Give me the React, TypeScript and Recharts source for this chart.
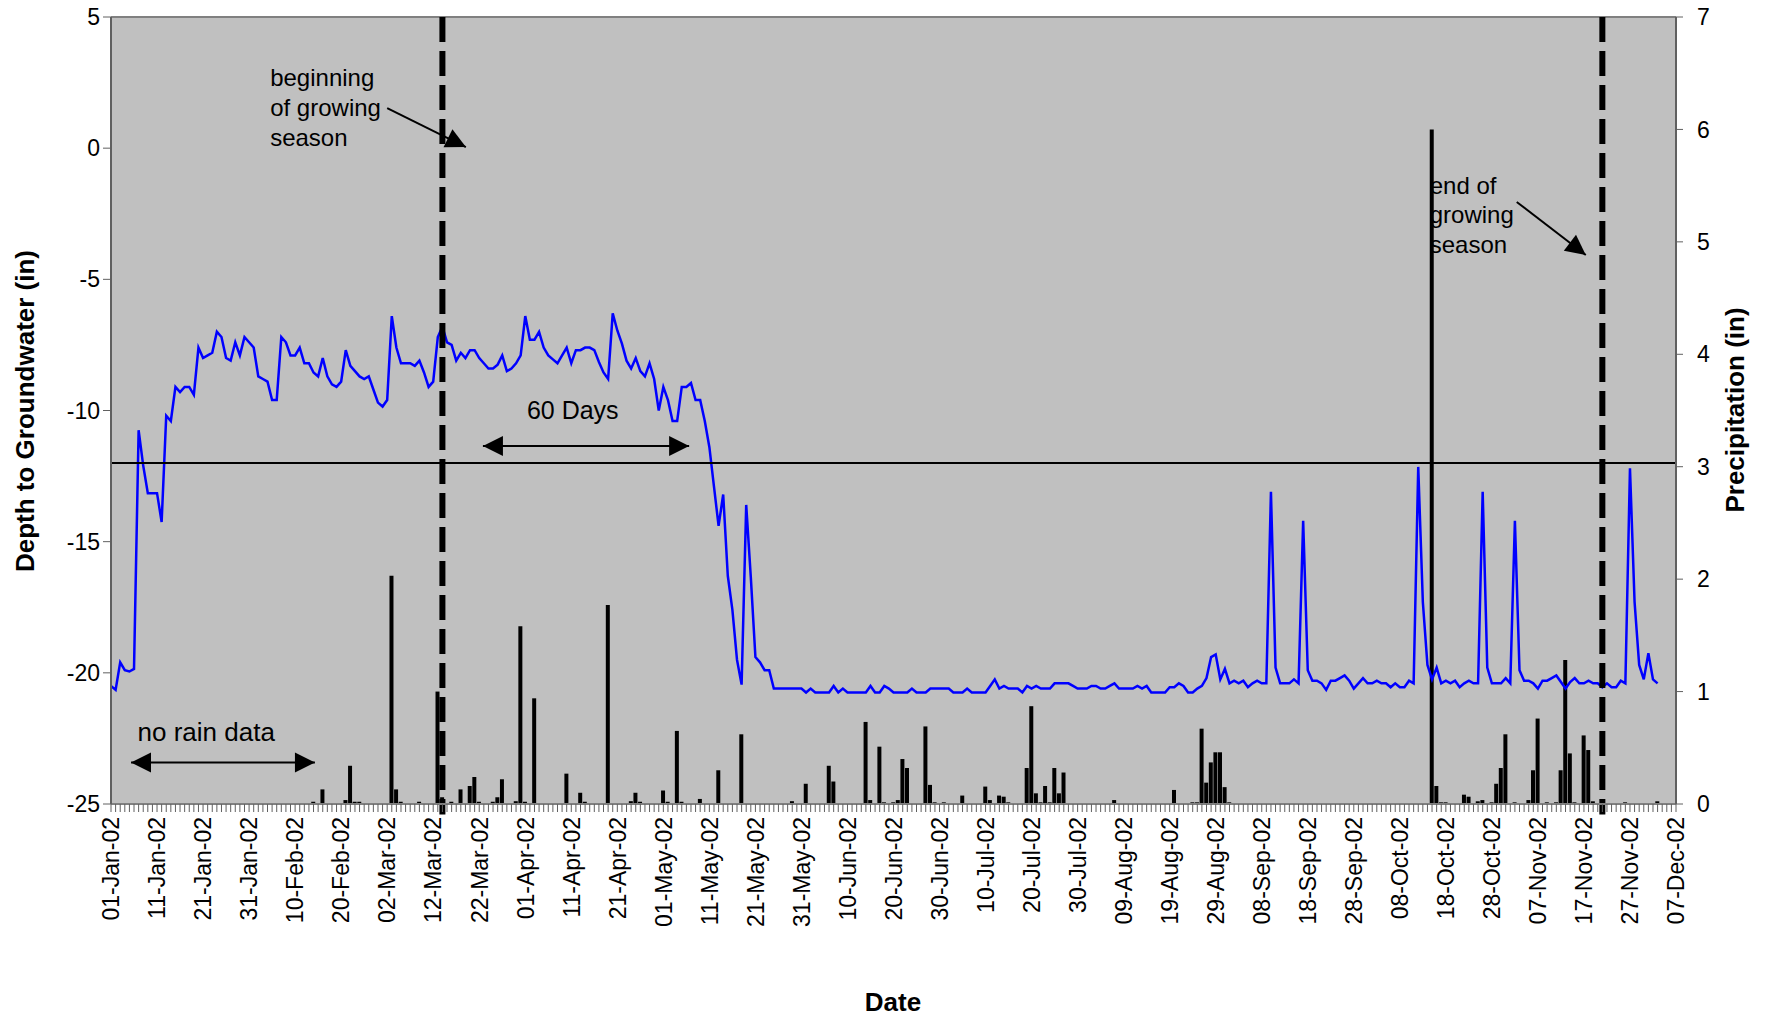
import React from "react";
import { ComposedChart, Bar, Line, XAxis, YAxis, CartesianGrid, ReferenceLine } from "recharts";

const FONT = "'Liberation Sans', Arial, Helvetica, sans-serif";

// Depth to groundwater (in), one reading a day starting 01-Jan-02.
const depthIn = [
  -20.5, -20.65, -19.6, -19.9, -19.95, -19.85, -10.75, -12.1, -13.15, -13.15,
  -13.15, -14.25, -10.2, -10.4, -9.1, -9.3, -9.1, -9.1, -9.4, -7.6,
  -8.0, -7.9, -7.8, -7.0, -7.2, -8.0, -8.1, -7.4, -7.9, -7.2,
  -7.4, -7.6, -8.7, -8.8, -8.9, -9.6, -9.6, -7.2, -7.4, -7.9,
  -7.9, -7.6, -8.2, -8.2, -8.55, -8.7, -8.0, -8.7, -9.0, -9.1,
  -8.9, -7.7, -8.3, -8.5, -8.7, -8.8, -8.7, -9.2, -9.7, -9.85,
  -9.6, -6.4, -7.6, -8.2, -8.2, -8.2, -8.3, -8.1, -8.55, -9.1,
  -8.9, -7.2, -6.8, -7.4, -7.5, -8.1, -7.8, -8.0, -7.7, -7.7,
  -8.0, -8.2, -8.4, -8.4, -8.25, -7.9, -8.5, -8.4, -8.2, -7.9,
  -6.4, -7.3, -7.3, -7.0, -7.6, -7.9, -8.05, -8.2, -7.9, -7.6,
  -8.2, -7.7, -7.7, -7.6, -7.6, -7.7, -8.15, -8.55, -8.8, -6.3,
  -6.95, -7.45, -8.1, -8.4, -8.0, -8.5, -8.7, -8.2, -8.8, -10.0,
  -9.1, -9.6, -10.4, -10.4, -9.1, -9.1, -8.95, -9.6, -9.6, -10.4,
  -11.4, -12.9, -14.4, -13.2, -16.3, -17.6, -19.5, -20.45, -13.6, -16.35,
  -19.4, -19.6, -19.9, -19.9, -20.6, -20.6, -20.6, -20.6, -20.6, -20.6,
  -20.6, -20.75, -20.6, -20.75, -20.75, -20.75, -20.75, -20.5, -20.75, -20.6,
  -20.75, -20.75, -20.75, -20.75, -20.75, -20.5, -20.75, -20.75, -20.5, -20.6,
  -20.75, -20.75, -20.75, -20.75, -20.6, -20.75, -20.75, -20.75, -20.6, -20.6,
  -20.6, -20.6, -20.6, -20.75, -20.75, -20.75, -20.6, -20.75, -20.75, -20.75,
  -20.75, -20.5, -20.25, -20.6, -20.5, -20.6, -20.6, -20.6, -20.75, -20.5,
  -20.6, -20.5, -20.6, -20.6, -20.6, -20.4, -20.4, -20.4, -20.4, -20.5,
  -20.6, -20.6, -20.6, -20.5, -20.5, -20.6, -20.6, -20.5, -20.4, -20.6,
  -20.6, -20.6, -20.6, -20.5, -20.6, -20.5, -20.75, -20.75, -20.75, -20.75,
  -20.55, -20.55, -20.4, -20.5, -20.75, -20.75, -20.6, -20.5, -20.2, -19.4,
  -19.3, -20.25, -19.85, -20.4, -20.3, -20.4, -20.3, -20.55, -20.4, -20.3,
  -20.4, -20.4, -13.1, -19.8, -20.4, -20.4, -20.4, -20.25, -20.4, -14.2,
  -19.9, -20.3, -20.3, -20.4, -20.65, -20.3, -20.3, -20.2, -20.1, -20.3,
  -20.6, -20.4, -20.2, -20.4, -20.4, -20.3, -20.4, -20.4, -20.55, -20.4,
  -20.55, -20.55, -20.3, -20.4, -12.15, -17.3, -19.7, -20.25, -19.8, -20.4,
  -20.3, -20.4, -20.3, -20.55, -20.4, -20.3, -20.4, -20.4, -13.1, -19.8,
  -20.4, -20.4, -20.4, -20.2, -20.4, -14.2, -19.9, -20.3, -20.3, -20.4,
  -20.6, -20.3, -20.3, -20.2, -20.1, -20.35, -20.6, -20.35, -20.2, -20.4,
  -20.4, -20.3, -20.4, -20.4, -20.55, -20.4, -20.55, -20.55, -20.3, -20.4,
  -12.2, -17.3, -19.7, -20.25, -19.25, -20.25, -20.4,
];

// Rain gauge: day index (0 = 01-Jan-02) and daily total (in). Nothing logged before mid-Feb.
const rainDay = [
  44, 46, 51, 52, 53, 54, 61, 62, 63, 67, 71, 72, 74, 76, 78, 79, 80, 83, 84, 85,
  88, 89, 90, 92, 99, 102, 103, 108, 113, 114, 115, 120, 121, 123, 124, 128, 132, 137, 148, 151,
  156, 157, 164, 165, 167, 168, 170, 171, 172, 173, 177, 178, 179, 181, 185, 190, 191, 193, 194, 195,
  199, 200, 201, 202, 203, 204, 205, 206, 207, 218, 231, 235, 236, 237, 238, 239, 240, 241, 242, 243,
  287, 288, 289, 290, 294, 295, 297, 298, 300, 301, 302, 303, 305, 308, 309, 310, 312, 314, 315, 316,
  317, 318, 320, 321, 322, 329, 336,
];
const rainIn = [
  0.02, 0.13, 0.035, 0.34, 0.02, 0.02, 2.03, 0.13, 0.02, 0.02, 1.0, 0.06, 0.02, 0.13, 0.16, 0.24, 0.02, 0.02, 0.06, 0.22,
  0.025, 1.58, 0.02, 0.94, 0.27, 0.1, 0.02, 1.77, 0.025, 0.1, 0.02, 0.12, 0.02, 0.65, 0.02, 0.045, 0.3, 0.62, 0.025, 0.18,
  0.34, 0.2, 0.73, 0.035, 0.51, 0.015, 0.015, 0.035, 0.4, 0.32, 0.69, 0.17, 0.015, 0.015, 0.075, 0.155, 0.035, 0.075, 0.065, 0.015,
  0.32, 0.87, 0.095, 0.015, 0.16, 0.015, 0.32, 0.095, 0.28, 0.035, 0.125, 0.015, 0.015, 0.67, 0.19, 0.37, 0.46, 0.46, 0.15, 0.015,
  6.0, 0.16, 0.015, 0.015, 0.083, 0.065, 0.024, 0.035, 0.015, 0.18, 0.32, 0.62, 0.015, 0.035, 0.3, 0.76, 0.015, 0.015, 0.3, 1.28,
  0.45, 0.015, 0.61, 0.48, 0.024, 0.015, 0.024,
];

// One label every 10th day.
const tickLabels = [
  "01-Jan-02", "11-Jan-02", "21-Jan-02", "31-Jan-02", "10-Feb-02", "20-Feb-02", "02-Mar-02",
  "12-Mar-02", "22-Mar-02", "01-Apr-02", "11-Apr-02", "21-Apr-02", "01-May-02", "11-May-02",
  "21-May-02", "31-May-02", "10-Jun-02", "20-Jun-02", "30-Jun-02", "10-Jul-02", "20-Jul-02",
  "30-Jul-02", "09-Aug-02", "19-Aug-02", "29-Aug-02", "08-Sep-02", "18-Sep-02", "28-Sep-02",
  "08-Oct-02", "18-Oct-02", "28-Oct-02", "07-Nov-02", "17-Nov-02", "27-Nov-02", "07-Dec-02",
];

const depthTicks = [-25, -20, -15, -10, -5, 0, 5];
const rainTicks = [0, 1, 2, 3, 4, 5, 6, 7];

const LAST_DAY = 340;
const THRESHOLD = -12;
const SEASON_START = 72; // 14-Mar
const SEASON_END = 324; // 21-Nov

const rows = Array.from({ length: LAST_DAY + 1 }, (_, day) => ({
  day,
  depth: day < depthIn.length ? depthIn[day] : null,
  rain: null as number | null,
}));
rainDay.forEach((d, i) => {
  rows[d].rain = rainIn[i];
});
const dayTicks = rows.map((r) => r.day);

function DateTick(props: any) {
  const { x, y, payload } = props;
  const v = payload.value as number;
  if (v % 10 !== 0) return <g />;
  return (
    <text
      x={x}
      y={y}
      transform={`rotate(-90 ${x} ${y})`}
      textAnchor="end"
      dy="0.36em"
      fontSize={23}
      fontFamily={FONT}
      fill="#000"
    >
      {tickLabels[v / 10]}
    </text>
  );
}

function head(x: number, y: number, ang: number) {
  const L = 20;
  const W = 10;
  const bx = x - L * Math.cos(ang);
  const by = y - L * Math.sin(ang);
  const px = -Math.sin(ang) * W;
  const py = Math.cos(ang) * W;
  return <polygon points={`${x},${y} ${bx + px},${by + py} ${bx - px},${by - py}`} fill="#000" />;
}

type Note = { dx: number; dy: number; size: number; lh: number; lines: string[] };

// arrow drawn between the reference segment's end points, text offset from its start
function arrow(double: boolean, note: Note) {
  return (p: any) => {
    const { x1, y1, x2, y2 } = p;
    const ang = Math.atan2(y2 - y1, x2 - x1);
    return (
      <g>
        <line x1={x1} y1={y1} x2={x2} y2={y2} stroke="#000" strokeWidth={2} />
        {head(x2, y2, ang)}
        {double && head(x1, y1, ang + Math.PI)}
        <text fontSize={note.size} fontFamily={FONT} fill="#000">
          {note.lines.map((l, i) => (
            <tspan key={i} x={x1 + note.dx} y={y1 + note.dy + i * note.lh}>
              {l}
            </tspan>
          ))}
        </text>
      </g>
    );
  };
}

export default function App() {
  return (
    <div style={{ position: "absolute", left: 0, top: 0, width: 1775, height: 1019, background: "#fff" }}>
      <ComposedChart
        width={1775}
        height={1019}
        data={rows}
        margin={{ top: 17, right: 39, bottom: 85, left: 50 }}
      >
        <CartesianGrid yAxisId="left" fill="#C0C0C0" fillOpacity={1} stroke="none" horizontal={false} vertical={false} />
        <XAxis
          dataKey="day"
          type="number"
          domain={[0, LAST_DAY]}
          ticks={dayTicks}
          interval={0}
          height={130}
          tickSize={8}
          tickMargin={5}
          tick={(p: any) => <DateTick {...p} />}
          axisLine={{ stroke: "#808080", strokeWidth: 2 }}
          tickLine={{ stroke: "#606060" }}
          allowDataOverflow
        />
        <YAxis
          yAxisId="left"
          domain={[-25, 5]}
          ticks={depthTicks}
          width={61}
          tickSize={8}
          tickMargin={3}
          axisLine={{ stroke: "#606060", strokeWidth: 2 }}
          tickLine={{ stroke: "#606060" }}
          tick={{ fontSize: 23, fill: "#000", fontFamily: FONT }}
          allowDataOverflow
        />
        <YAxis
          yAxisId="right"
          orientation="right"
          domain={[0, 7]}
          ticks={rainTicks}
          width={60}
          tickSize={7}
          tickMargin={14}
          axisLine={{ stroke: "#606060", strokeWidth: 2 }}
          tickLine={{ stroke: "#606060" }}
          tick={{ fontSize: 23, fill: "#000", fontFamily: FONT, textAnchor: "start" }}
          allowDataOverflow
        />
        <ReferenceLine yAxisId="left" y={5} stroke="#808080" strokeWidth={2} />
        <Bar yAxisId="right" dataKey="rain" fill="#000" barSize={4} isAnimationActive={false} />
        <Line
          yAxisId="left"
          dataKey="depth"
          type="linear"
          stroke="#0000FF"
          strokeWidth={2.5}
          dot={false}
          activeDot={false}
          isAnimationActive={false}
        />
        <ReferenceLine yAxisId="left" y={THRESHOLD} stroke="#000" strokeWidth={2} />
        {[SEASON_START, SEASON_END].map((d) => (
          <ReferenceLine
            key={d}
            yAxisId="left"
            segment={[{ x: d, y: 5 }, { x: d, y: -25.4 }]}
            ifOverflow="visible"
            stroke="#000"
            strokeWidth={6}
            strokeDasharray="25 9"
          />
        ))}
        <ReferenceLine
          yAxisId="left"
          segment={[{ x: 60, y: 1.53 }, { x: 77.1, y: 0.04 }]}
          ifOverflow="visible"
          shape={arrow(false, { dx: -117, dy: -22.5, size: 24, lh: 30, lines: ["beginning", "of growing", "season"] })}
        />
        <ReferenceLine
          yAxisId="left"
          segment={[{ x: 305.4, y: -2.05 }, { x: 320.4, y: -4.07 }]}
          ifOverflow="visible"
          shape={arrow(false, { dx: -87, dy: -8, size: 24, lh: 29.5, lines: ["end of", "growing", "season"] })}
        />
        <ReferenceLine
          yAxisId="left"
          segment={[{ x: 80.8, y: -11.35 }, { x: 125.6, y: -11.35 }]}
          ifOverflow="visible"
          shape={arrow(true, { dx: 44, dy: -27, size: 25, lh: 0, lines: ["60 Days"] })}
        />
        <ReferenceLine
          yAxisId="left"
          segment={[{ x: 4.35, y: -23.42 }, { x: 44.3, y: -23.42 }]}
          ifOverflow="visible"
          shape={arrow(true, { dx: 6.5, dy: -21.5, size: 26, lh: 0, lines: ["no rain data"] })}
        />
      </ComposedChart>
      <svg
        width={1775}
        height={1019}
        style={{ position: "absolute", left: 0, top: 0, pointerEvents: "none" }}
        fontFamily={FONT}
        fontWeight="bold"
        fontSize={26}
      >
        <text x={25} y={411} transform="rotate(-90 25 411)" textAnchor="middle" dominantBaseline="central">
          Depth to Groundwater (in)
        </text>
        <text x={1735} y={410} transform="rotate(-90 1735 410)" textAnchor="middle" dominantBaseline="central">
          Precipitation (in)
        </text>
        <text x={893} y={1002} textAnchor="middle" dominantBaseline="central">
          Date
        </text>
      </svg>
    </div>
  );
}
